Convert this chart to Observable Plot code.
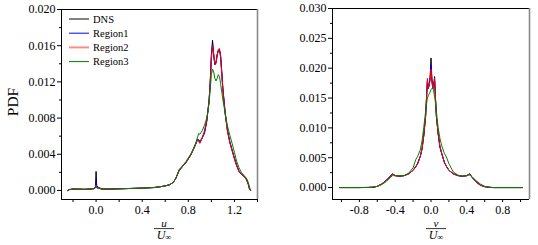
<!DOCTYPE html>
<html><head><meta charset="utf-8">
<script src="https://cdn.jsdelivr.net/npm/d3@7"></script>
<script src="https://cdn.jsdelivr.net/npm/@observablehq/plot@0.6"></script>
<style>
body{margin:0;background:#fff;}
#wrap{position:relative;width:538px;height:245px;overflow:hidden;font-family:"Liberation Serif","Times New Roman",serif;}
#wrap svg{position:absolute;top:0;}
</style></head><body><div id="wrap"></div>
<script>
// ---------- data ----------
const seriesNames = ["DNS", "Region1", "Region2", "Region3"];
const seriesColors = ["#000000", "#0000ff", "#ff0000", "#008000"];

// left panel: PDF of u/U∞
const uGrid = [-0.245,-0.23,-0.2,-0.15,-0.1,-0.05,-0.02,-0.006,0,0.006,0.02,0.05,0.1,0.2,0.3,0.4,0.5,0.55,0.6,0.64,0.67,0.69,0.71,0.72,0.74,0.76,0.78,0.8,0.82,0.84,0.86,0.88,0.89,0.9,0.91,0.92,0.94,0.96,0.98,0.99,1.0,1.01,1.02,1.03,1.04,1.05,1.06,1.07,1.08,1.09,1.1,1.12,1.14,1.16,1.18,1.2,1.22,1.24,1.26,1.28,1.3,1.31,1.32,1.33,1.34];
const uDNS = [0,0.0001,0.00015,0.00014,0.00012,0.00016,0.0002,0.0003,0.0021,0.0003,0.00025,0.00016,0.00015,0.00018,0.00022,0.00026,0.00032,0.0004,0.0005,0.00065,0.0009,0.0013,0.0019,0.0022,0.0025,0.0028,0.0031,0.0035,0.0039,0.0044,0.0050,0.0056,0.0055,0.0053,0.0055,0.0058,0.0064,0.0077,0.0099,0.0120,0.0150,0.0166,0.0150,0.0139,0.0141,0.0150,0.0155,0.0156,0.0148,0.0130,0.0111,0.0085,0.0066,0.0053,0.0044,0.0035,0.0027,0.0021,0.0018,0.0016,0.0013,0.0010,0.0007,0.0002,0];
const uRegion1 = [0,0.0001,0.00016,0.00014,0.00013,0.00016,0.0002,0.0004,0.0010,0.0005,0.00035,0.00018,0.00015,0.00018,0.00022,0.00026,0.00032,0.0004,0.0005,0.00065,0.0009,0.0013,0.0019,0.0022,0.0025,0.0028,0.0031,0.0035,0.0039,0.0045,0.0051,0.0057,0.0056,0.0055,0.0056,0.0058,0.0063,0.0076,0.0100,0.0120,0.0148,0.0162,0.0150,0.0140,0.0142,0.0150,0.0154,0.0155,0.0150,0.0132,0.0113,0.0086,0.0066,0.0054,0.0045,0.0036,0.0028,0.0021,0.0018,0.0016,0.0014,0.0011,0.0007,0.0002,0];
const uRegion2 = [0,0.0001,0.00015,0.00014,0.00012,0.00016,0.0002,0.0003,0.0006,0.0003,0.00025,0.00015,0.00015,0.00018,0.00022,0.00026,0.00032,0.0004,0.0005,0.00065,0.0009,0.0013,0.0019,0.0023,0.0025,0.0028,0.0031,0.0035,0.0039,0.0044,0.0050,0.0056,0.0054,0.0052,0.0055,0.0058,0.0066,0.0078,0.0098,0.0118,0.0145,0.0160,0.0151,0.0139,0.0140,0.0149,0.0156,0.0157,0.0147,0.0128,0.0110,0.0084,0.0065,0.0053,0.0044,0.0035,0.0027,0.0021,0.0018,0.0016,0.0013,0.0010,0.0007,0.0002,0];
const uRegion3 = [0,0.0001,0.00016,0.00015,0.00013,0.00016,0.0002,0.0003,0.0004,0.0003,0.00025,0.00016,0.00015,0.00018,0.00022,0.00026,0.00032,0.0004,0.0005,0.00065,0.0009,0.0013,0.0019,0.0023,0.0026,0.0029,0.0032,0.0036,0.0040,0.0045,0.0050,0.0059,0.0063,0.0062,0.0064,0.0066,0.0072,0.0080,0.0096,0.0112,0.0128,0.0134,0.0131,0.0124,0.0121,0.0124,0.0128,0.0126,0.0118,0.0109,0.0100,0.0085,0.0071,0.0061,0.0052,0.0042,0.0032,0.0025,0.0020,0.0017,0.0014,0.0012,0.0009,0.0004,0];

// right panel: PDF of v/U∞
const vGrid = [-1.02,-0.8,-0.7,-0.65,-0.6,-0.55,-0.5,-0.46,-0.43,-0.4,-0.35,-0.3,-0.25,-0.2,-0.17,-0.15,-0.12,-0.1,-0.08,-0.06,-0.05,-0.04,-0.03,-0.02,-0.01,0,0.01,0.02,0.03,0.04,0.05,0.06,0.08,0.1,0.12,0.15,0.17,0.2,0.25,0.3,0.35,0.4,0.43,0.46,0.5,0.55,0.6,0.65,0.7,0.8,1.02];
const vDNS = [0,0,0.00002,0.00006,0.0002,0.0006,0.0012,0.0018,0.0023,0.0020,0.0019,0.0020,0.0023,0.0029,0.0035,0.0040,0.0052,0.0065,0.0088,0.0120,0.0150,0.0178,0.0166,0.0174,0.0185,0.0217,0.0182,0.0166,0.0172,0.0186,0.0150,0.0120,0.0090,0.0068,0.0057,0.0042,0.0036,0.0029,0.0023,0.0020,0.0019,0.0020,0.0023,0.0017,0.0010,0.0004,0.00015,0.00004,0,0,0];
const vRegion1 = [0,0,0.00002,0.00006,0.0002,0.0006,0.0012,0.0018,0.0023,0.0020,0.0019,0.0020,0.0023,0.0029,0.0035,0.0040,0.0052,0.0065,0.0088,0.0120,0.0150,0.0180,0.0166,0.0172,0.0182,0.0205,0.0180,0.0166,0.0172,0.0180,0.0150,0.0120,0.0090,0.0068,0.0057,0.0042,0.0036,0.0029,0.0023,0.0020,0.0019,0.0020,0.0023,0.0017,0.0010,0.0004,0.00015,0.00004,0,0,0];
const vRegion2 = [0,0,0.00002,0.00006,0.0002,0.0006,0.0012,0.0018,0.0023,0.0020,0.0019,0.0020,0.0023,0.0029,0.0035,0.0040,0.0052,0.0065,0.0088,0.0120,0.0150,0.0183,0.0166,0.0172,0.0180,0.0198,0.0178,0.0166,0.0172,0.0183,0.0150,0.0120,0.0090,0.0068,0.0057,0.0042,0.0036,0.0029,0.0023,0.0020,0.0019,0.0020,0.0023,0.0017,0.0010,0.0004,0.00015,0.00004,0,0,0];
const vRegion3 = [0,0,0.00002,0.00006,0.0002,0.0005,0.0010,0.0016,0.0020,0.0020,0.0020,0.0020,0.0024,0.0033,0.0047,0.0052,0.0063,0.0078,0.0102,0.0128,0.0140,0.0150,0.0154,0.0157,0.0160,0.0164,0.0166,0.0168,0.0162,0.0152,0.0142,0.0128,0.0100,0.0082,0.0070,0.0057,0.0052,0.0040,0.0026,0.0021,0.0019,0.0020,0.0021,0.0018,0.0012,0.0006,0.0002,0.00005,0,0,0];

// axes
const uDomain = [-0.3, 1.4];
const uTicks = [0, 0.4, 0.8, 1.2];
const uMinorTicks = [-0.2, 0.2, 0.6, 1.0, 1.4];
const uPdfDomain = [-0.001, 0.020];
const uPdfTicks = [0, 0.004, 0.008, 0.012, 0.016, 0.020];
const uPdfMinorTicks = [0.002, 0.006, 0.010, 0.014, 0.018];

const vDomain = [-1.1, 1.1];
const vTicks = [-0.8, -0.4, 0, 0.4, 0.8];
const vMinorTicks = [-1.0, -0.6, -0.2, 0.2, 0.6, 1.0];
const vPdfDomain = [-0.002, 0.030];
const vPdfTicks = [0, 0.005, 0.010, 0.015, 0.020, 0.025, 0.030];
const vPdfMinorTicks = [0.0025, 0.0075, 0.0125, 0.0175, 0.0225, 0.0275];

// ---------- drawing ----------
const FONT = '"Liberation Serif", "Times New Roman", serif';

function makePanel(o) {
  const data = [];
  seriesNames.forEach((name, i) => o.grid.forEach((x, j) => data.push({name, x, y: o.ys[i][j]})));
  const fx = d => d.toFixed(1);
  const fy = d => d.toFixed(3);
  return Plot.plot({
    width: o.width, height: 245,
    marginLeft: o.ml, marginRight: o.mr, marginTop: o.mt, marginBottom: 46,
    style: {fontFamily: FONT, fontSize: "12px", color: "#000", background: "transparent", overflow: "visible"},
    x: {domain: o.xDomain},
    y: {domain: o.yDomain},
    color: {domain: seriesNames, range: seriesColors},
    marks: [
      Plot.axisX({ticks: o.xTicks, tickFormat: fx, tickSize: 3, tickPadding: 3, label: null}),
      Plot.axisX({ticks: o.xMinor, tickFormat: () => "", tickSize: 3, label: null}),
      Plot.axisY({ticks: o.yTicks, tickFormat: fy, tickSize: 4, tickPadding: 2, label: null}),
      Plot.axisY({ticks: o.yMinor, tickFormat: () => "", tickSize: 2, label: null}),
      Plot.line(data, {x: "x", y: "y", z: "name", stroke: "name", strokeWidth: 1, clip: true}),
      Plot.ruleY([o.yDomain[1]], {stroke: "#000", strokeWidth: 1}),
      Plot.ruleX([o.xDomain[1]], {stroke: "#8a8a8a", strokeWidth: 1.6}),
      Plot.ruleY([o.yDomain[0]], {stroke: "#000", strokeWidth: 1}),
      Plot.ruleX([o.xDomain[0]], {stroke: "#000", strokeWidth: 1})
    ]
  });
}

function fraction(svg, cx, letter) {
  const g = d3.select(svg).append("g").attr("font-family", FONT).attr("fill", "#000").attr("text-anchor", "middle");
  g.append("text").attr("x", cx).attr("y", 226.6)
    .attr("font-size", 11).attr("font-style", "italic").text(letter);
  g.append("line").attr("x1", cx - 10).attr("x2", cx + 10).attr("y1", 228.6).attr("y2", 228.6)
    .attr("stroke", "#000").attr("stroke-width", 0.8);
  const t = g.append("text").attr("x", cx).attr("y", 239).attr("font-size", 12);
  t.append("tspan").attr("font-style", "italic").text("U");
  t.append("tspan").attr("font-size", 8.5).attr("dy", 0.5).text("∞");
}

const wrap = document.getElementById("wrap");

const left = makePanel({
  grid: uGrid, ys: [uDNS, uRegion1, uRegion2, uRegion3],
  xDomain: uDomain, yDomain: uPdfDomain, xTicks: uTicks, xMinor: uMinorTicks,
  yTicks: uPdfTicks, yMinor: uPdfMinorTicks, width: 270, ml: 61, mr: 13, mt: 9
});
left.style.left = "0px";
wrap.appendChild(left);

const right = makePanel({
  grid: vGrid, ys: [vDNS, vRegion1, vRegion2, vRegion3],
  xDomain: vDomain, yDomain: vPdfDomain, xTicks: vTicks, xMinor: vMinorTicks,
  yTicks: vPdfTicks, yMinor: vPdfMinorTicks, width: 268, ml: 62, mr: 9, mt: 8
});
right.style.left = "270px";
wrap.appendChild(right);

// y label
d3.select(left).append("text").attr("transform", "translate(14,102) rotate(-90)")
  .attr("text-anchor", "middle").attr("dominant-baseline", "middle")
  .attr("font-family", FONT).attr("font-size", 15.5).attr("fill", "#000").text("PDF");

// x labels
fraction(left, 164, "u");
fraction(right, 166, "v");

// legend
const lg = d3.select(left).append("g").attr("font-family", FONT).attr("font-size", 10.5).attr("text-anchor", "start");
const legendStyle = [{o: 0.55, w: 1.8}, {o: 1, w: 1}, {o: 0.45, w: 2}, {o: 1, w: 1}];
seriesNames.forEach((name, i) => {
  const y = 19 + i * 14.2;
  lg.append("line").attr("x1", 69).attr("x2", 89).attr("y1", y).attr("y2", y)
    .attr("stroke", seriesColors[i]).attr("stroke-opacity", legendStyle[i].o).attr("stroke-width", legendStyle[i].w);
  lg.append("text").attr("x", 93).attr("y", y).attr("dy", "0.35em").attr("fill", "#000").text(name);
});
</script></body></html>
